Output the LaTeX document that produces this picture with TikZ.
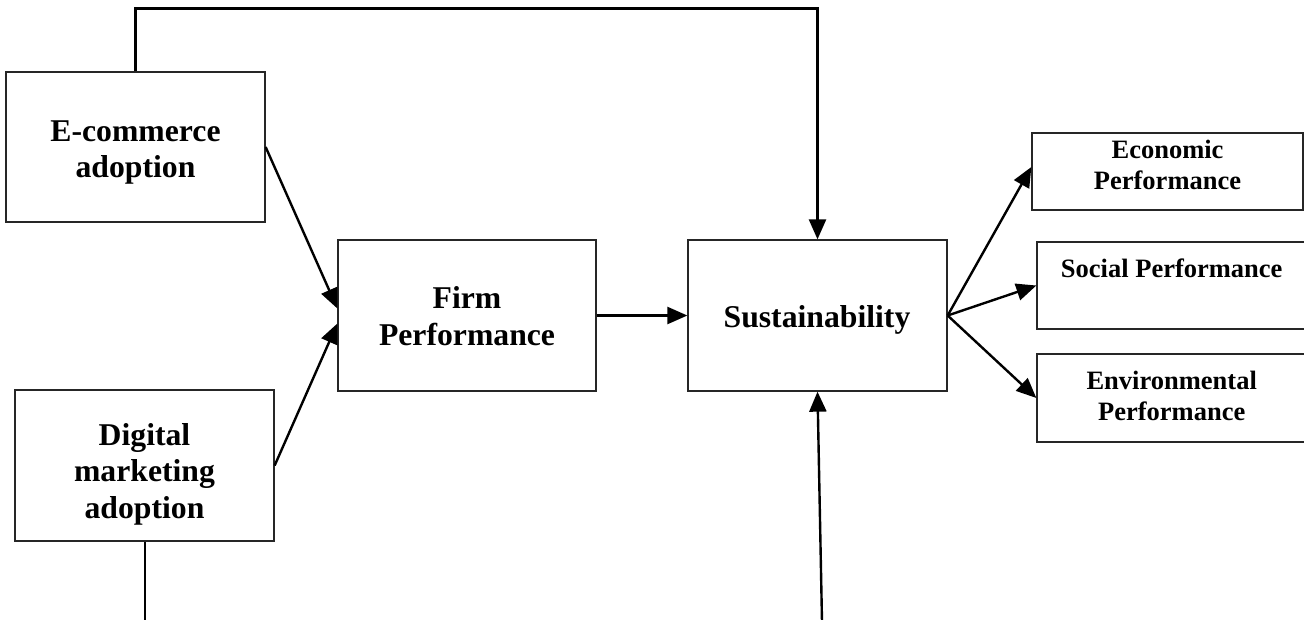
\documentclass[tikz,border=0pt]{standalone}
\usepackage{fontspec}
\setmainfont{Liberation Serif}
\usetikzlibrary{arrows.meta}

\begin{document}
\begin{tikzpicture}[x=1pt, y=-1pt,
  box/.style={draw=black!85, line width=1.3pt, inner sep=0pt, fill=white},
  bigtxt/.style={inner sep=0pt, align=center,
    font=\fontsize{31.7}{36.5}\selectfont\bfseries},
  smalltxt/.style={inner sep=0pt, align=center,
    font=\fontsize{26.5}{31}\selectfont\bfseries},
  arr/.style={draw=black, line width=2.4pt,
    -{Triangle[length=20pt, width=17pt]}},
  plain/.style={draw=black, line width=2pt}]

\useasboundingbox (0,0) rectangle (1304,619);
\clip (0,0) rectangle (1304,619);

% boxes
\node[box, minimum width=259pt, minimum height=150pt] (ecom) at (135.5,147) {};
\node[box, minimum width=259pt, minimum height=151pt] (digi) at (144.5,465.5) {};
\node[box, minimum width=258pt, minimum height=151pt] (firm) at (467,315.5) {};
\node[box, minimum width=259pt, minimum height=151pt] (sust) at (817.5,315.5) {};
\node[box, minimum width=271pt, minimum height=77pt]  (econ) at (1167.5,171.5) {};
\node[box, minimum width=269pt, minimum height=87pt]  (soc)  at (1171.5,285.5) {};
\node[box, minimum width=269pt, minimum height=88pt]  (env)  at (1171.5,398) {};

% box texts
\node[bigtxt] (ecomT) at (135.5,152.4) {E-commerce\\adoption};
\node[bigtxt] (digiT) at (144.5,474.3) {Digital\\marketing\\adoption};
\node[bigtxt] (firmT) at (467,316) {Firm\\Performance};
\node[bigtxt] (sustT) at (817,320) {Sustainability};
\node[smalltxt] (econT) at (1167.5,165.3) {Economic\\Performance};
\node[smalltxt] (socT)  at (1171.7,267.8) {Social Performance};
\node[smalltxt] (envT)  at (1171.7,396) {Environmental\\Performance};

% free ends of the open lines
\coordinate (topRow) at (0,8.5);
\coordinate (digiEnd) at (144.5,622);
\coordinate (sustFeed) at (822,622);

% connectors
\draw[arr] (ecom.north) -- (ecom.north |- topRow) -- (sust.north |- topRow) -- (sust.north);
\draw[arr] (ecom.east) -- ([yshift=7pt]firm.west);
\draw[arr] (digi.east) -- ([yshift=-8pt]firm.west);
\draw[arr] (firm.east) -- (sust.west);
\draw[plain] (digi.south) -- (digiEnd);
\draw[arr] (sustFeed) -- (sust.south);
\draw[arr] (sust.east) -- ([yshift=4.5pt]econ.west);
\draw[arr] (sust.east) -- (soc.west);
\draw[arr] (sust.east) -- (env.west);

\end{tikzpicture}
\end{document}
